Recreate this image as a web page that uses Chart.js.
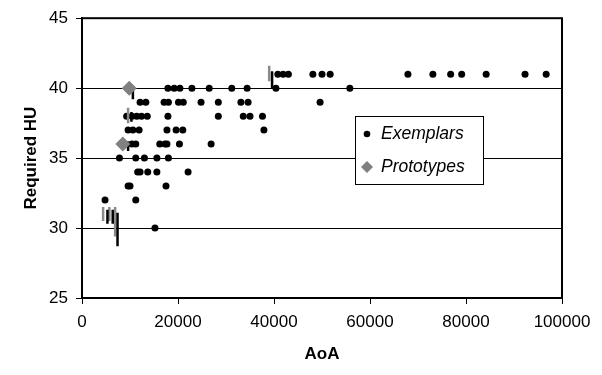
<!DOCTYPE html>
<html>
<head>
<meta charset="utf-8">
<script src="https://cdn.jsdelivr.net/npm/chart.js@4.4.1/dist/chart.umd.min.js"></script>
<style>
  html, body { margin: 0; padding: 0; background: #fff; }
  #wrap { width: 602px; height: 375px; }
</style>
</head>
<body>
<div id="wrap"><canvas id="grafico"></canvas></div>
<script>
// Exemplars (AoA, Required HU)
const exemplarX = [
  40800, 41900, 43000, 48100, 50000, 51700, 67900, 73100, 76800, 79100, 84200, 92300, 96700,
  17900, 19200, 20400, 22900, 26500, 31200, 34400, 40400, 55800,
  12100, 13300, 17100, 18000, 20100, 21100, 24800, 28400, 33100, 34600, 49600,
  9300, 10400, 11400, 12400, 13600, 17900, 28400, 33600, 35000, 37600,
  9600, 10600, 11900, 17700, 19600, 21000, 37900,
  10400, 11200, 16200, 17300, 17700, 20300, 26900,
  7800, 11200, 13000, 15600, 18000,
  11600, 12100, 13700, 15600, 22100,
  9600, 10000, 17500,
  4800, 11200,
  15200
];
const exemplarY = [
  41, 41, 41, 41, 41, 41, 41, 41, 41, 41, 41, 41, 41,
  40, 40, 40, 40, 40, 40, 40, 40, 40,
  39, 39, 39, 39, 39, 39, 39, 39, 39, 39, 39,
  38, 38, 38, 38, 38, 38, 38, 38, 38, 38,
  37, 37, 37, 37, 37, 37, 37,
  36, 36, 36, 36, 36, 36, 36,
  35, 35, 35, 35, 35,
  34, 34, 34, 34, 34,
  33, 33, 33,
  32, 32,
  30
];

// Prototypes
const prototypeX = [9850, 8500];
const prototypeY = [40, 36];

// Barras verticales (min / max)
const barraGrisX = [4400, 5700, 6900, 9600, 39000];
const barraGrisMin = [30.5, 30.5, 29.4, 37.5, 40.5];
const barraGrisMax = [31.5, 31.5, 31.5, 38.6, 41.6];
const barraNegraX = [5300, 6400, 7400, 10600, 10300, 9600, 39600];
const barraNegraMin = [30.3, 30.3, 28.7, 39.2, 37.6, 35.5, 40.0];
const barraNegraMax = [31.3, 31.3, 31.1, 39.9, 38.3, 36.2, 41.2];

const xTicks = [0, 20000, 40000, 60000, 80000, 100000];
const yTicks = [25, 30, 35, 40, 45];

const fuente = "'Liberation Sans', Arial, sans-serif";

function barras(xs, mins, maxs, color) {
  return xs.map((x, i) => ({
    type: 'scatter',
    data: [{ x: x, y: mins[i] }, { x: x, y: maxs[i] }],
    showLine: true,
    borderColor: color,
    borderWidth: 2.5,
    pointRadius: 0,
    pointHoverRadius: 0
  }));
}

// Marco del area y leyenda dentro del grafico
const marcoYLeyenda = {
  id: 'marcoYLeyenda',
  afterDraw(chart) {
    const ctx = chart.ctx;
    const a = chart.chartArea;
    ctx.save();
    ctx.strokeStyle = '#000';
    ctx.lineWidth = 2;
    ctx.strokeRect(a.left, a.top, a.right - a.left, a.bottom - a.top);

    // leyenda
    ctx.fillStyle = '#fff';
    ctx.fillRect(355, 116, 128, 68);
    ctx.lineWidth = 1;
    ctx.strokeStyle = '#000';
    ctx.strokeRect(355.5, 116.5, 128, 68);
    ctx.fillStyle = '#000';
    ctx.beginPath();
    ctx.arc(367, 134, 3.3, 0, Math.PI * 2);
    ctx.fill();
    ctx.fillStyle = '#808080';
    ctx.beginPath();
    ctx.moveTo(367, 161); ctx.lineTo(373, 167); ctx.lineTo(367, 173); ctx.lineTo(361, 167);
    ctx.closePath();
    ctx.fill();
    ctx.fillStyle = '#000';
    ctx.font = 'italic 17.5px ' + fuente;
    ctx.textBaseline = 'middle';
    ctx.fillText('Exemplars', 381, 134);
    ctx.fillText('Prototypes', 381, 167);
    ctx.restore();
  }
};

new Chart(document.getElementById('grafico'), {
  type: 'scatter',
  data: {
    datasets: [
      {
        label: 'Prototypes',
        data: prototypeX.map((x, i) => ({ x: x, y: prototypeY[i] })),
        pointStyle: 'rectRot',
        pointRadius: 7.5,
        backgroundColor: '#808080',
        borderColor: '#808080',
        borderWidth: 0
      },
      ...barras(barraNegraX, barraNegraMin, barraNegraMax, '#000'),
      ...barras(barraGrisX, barraGrisMin, barraGrisMax, '#8a8a8a'),
      {
        label: 'Exemplars',
        data: exemplarX.map((x, i) => ({ x: x, y: exemplarY[i] })),
        pointStyle: 'circle',
        pointRadius: 3.5,
        backgroundColor: '#000',
        borderColor: '#000',
        borderWidth: 0
      }
    ]
  },
  options: {
    responsive: true,
    maintainAspectRatio: false,
    animation: false,
    layout: { padding: { top: 15, right: 40, left: 0, bottom: 10 } },
    plugins: {
      legend: { display: false },
      tooltip: { enabled: false }
    },
    scales: {
      x: {
        type: 'linear',
        min: 0,
        max: 100000,
        afterBuildTicks: s => { s.ticks = xTicks.map(v => ({ value: v })); },
        afterFit: s => { s.height = 67; },
        grid: { drawOnChartArea: false, drawTicks: true, tickLength: 6, color: '#000' },
        border: { color: '#000', width: 2 },
        ticks: {
          color: '#000',
          font: { family: fuente, size: 17 },
          padding: 8,
          maxRotation: 0,
          callback: v => String(v)
        },
        title: {
          display: true,
          text: 'AoA',
          color: '#000',
          font: { family: fuente, size: 17, weight: 'bold' },
          padding: { top: 8, bottom: 0 }
        }
      },
      y: {
        min: 25,
        max: 45,
        afterBuildTicks: s => { s.ticks = yTicks.map(v => ({ value: v })); },
        afterFit: s => { s.width = 82; },
        grid: { drawOnChartArea: true, drawTicks: true, tickLength: 6, color: '#000', lineWidth: 1 },
        border: { color: '#000', width: 2 },
        ticks: {
          color: '#000',
          font: { family: fuente, size: 17 },
          padding: 8
        },
        title: {
          display: true,
          text: 'Required HU',
          color: '#000',
          font: { family: fuente, size: 17, weight: 'bold' },
          padding: { top: 21, bottom: 0 }
        }
      }
    }
  },
  plugins: [marcoYLeyenda]
});
</script>
</body>
</html>
